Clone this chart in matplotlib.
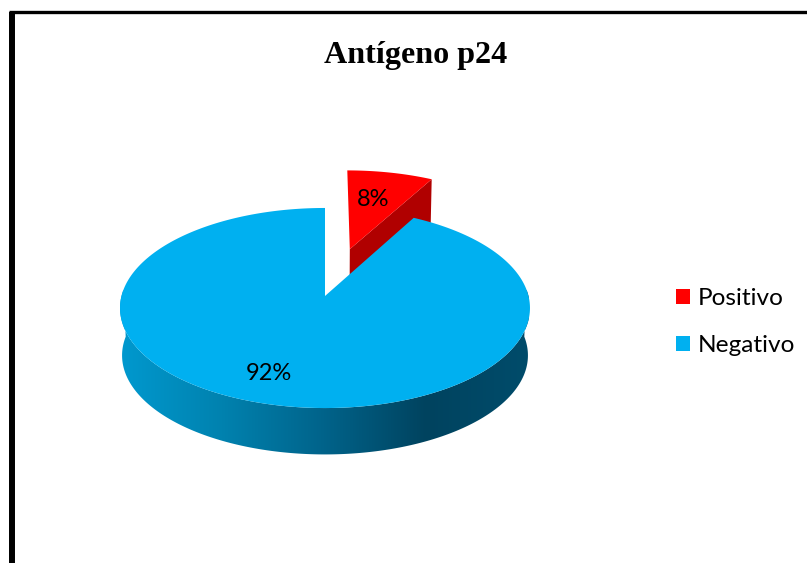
"""Antígeno p24: exploded pseudo-3D pie, drawn in pixel coordinates."""
import matplotlib

matplotlib.use("Agg")
import matplotlib.pyplot as plt
import numpy as np
from matplotlib.colors import LinearSegmentedColormap
from matplotlib.patches import Patch, Polygon

title = "Antígeno p24"
labels = ["Positivo", "Negativo"]
values = [8, 92]
colors = ["#FF0000", "#00B0F0"]
explode = [0.52, 0]

# projection of the unit-disc pie onto the tilted plane (pixels)
CX, CY = 325, 296
RX, RY = 203.5, 98.6
K = 0.12
DEPTH = 47.5
BOTTOM_SCALE = 0.99


def project(u, v, bottom=False):
    w = 1 + K * v
    s = BOTTOM_SCALE if bottom else 1.0
    x = CX + s * RX * u / w
    y = CY - s * RY * v / w + (DEPTH if bottom else 0)
    return np.column_stack([x, y])


def top_outline(wedge, n=240):
    t = np.radians(np.linspace(wedge.theta1, wedge.theta2, n))
    cx, cy = wedge.center
    u = np.r_[cx, cx + wedge.r * np.cos(t)]
    v = np.r_[cy, cy + wedge.r * np.sin(t)]
    return project(u, v)


def band(u, v):
    return np.vstack([project(u, v), project(u, v, bottom=True)[::-1]])


fig = plt.figure(figsize=(8.07, 5.63), dpi=100)
ax = fig.add_axes([0, 0, 1, 1])

wedges, _, autotexts = ax.pie(
    values,
    explode=explode,
    colors=colors,
    startangle=90,
    counterclock=False,
    autopct="%.0f%%",
    textprops={"family": "Lato", "fontsize": 17, "color": "black"},
)
red, blue = wedges
red.set_visible(False)
blue.set_visible(False)

# red slice: cut face behind the top surface
cut = top_outline(red)
cut_u = np.r_[red.center[0], red.center[0] + np.cos(np.radians(red.theta1))]
cut_v = np.r_[red.center[1], red.center[1] + np.sin(np.radians(red.theta1))]
ax.add_patch(Polygon(band(cut_u, cut_v), fc="#B00000", ec="none", zorder=2))
ax.add_patch(Polygon(cut, fc=colors[0], ec="none", zorder=3))

# blue rim, shaded left to right
t = np.radians(np.linspace(176, 364, 300))
rim = Polygon(band(np.cos(t), np.sin(t)), transform=ax.transData, fc="none", ec="none")
ax.add_patch(rim)
shade = LinearSegmentedColormap.from_list(
    "rim",
    [(0.0, "#0099CF"), (0.25, "#0082AF"), (0.5, "#00638A"), (0.75, "#00435F"), (1.0, "#004C6B")],
)
img = ax.imshow(
    np.linspace(0, 1, 256)[None, :],
    cmap=shade,
    extent=(119, 529, 470, 290),
    aspect="auto",
    zorder=4,
)
img.set_clip_path(rim)

ax.add_patch(Polygon(top_outline(blue), fc=colors[1], ec="none", zorder=5))

for txt, pos in zip(autotexts, [(373, 200), (269, 374)]):
    txt.set_position(pos)
    txt.set_zorder(6)

ax.text(416, 55, title, family="Liberation Serif", weight="bold", fontsize=23.1,
        ha="center", va="center")

handles = [Patch(fc=c, ec="none") for c in colors]
ax.legend(
    handles,
    labels,
    loc="center left",
    bbox_to_anchor=(654, 322),
    bbox_transform=ax.transData,
    frameon=False,
    prop={"family": "Lato", "size": 17.6},
    handlelength=0.58,
    handleheight=0.58,
    handletextpad=0.3,
    labelspacing=1.06,
)

# frame: only the left and top sides show in the crop
ax.plot([12, 12], [563, 11.5], color="black", lw=4.3, solid_capstyle="butt", zorder=7)
ax.plot([9, 807], [11.5, 11.5], color="black", lw=2.4, solid_capstyle="butt", zorder=7)

ax.set_aspect("auto")
ax.set_xlim(0, 807)
ax.set_ylim(563, 0)
ax.axis("off")

fig.savefig("out.png", dpi=100)
plt.close(fig)
